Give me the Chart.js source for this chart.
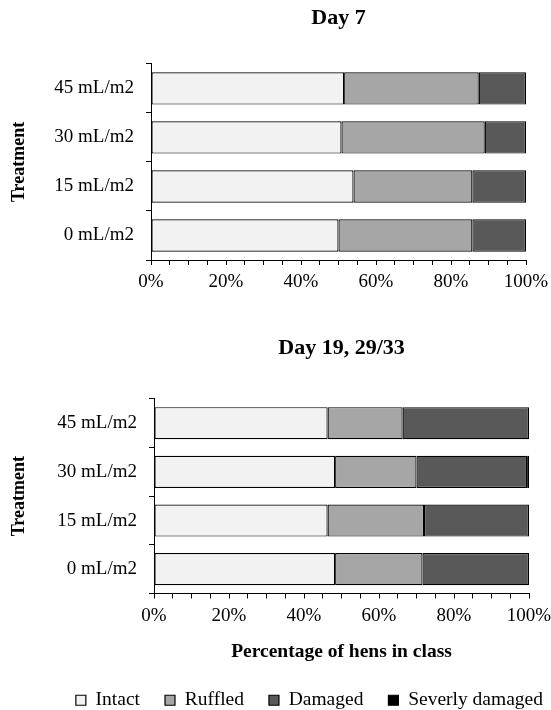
<!DOCTYPE html>
<html>
<head>
<meta charset="utf-8">
<script src="https://cdn.jsdelivr.net/npm/chart.js@4"></script>
<style>
  html, body { margin: 0; background: #fff; overflow: hidden; }
  #wrap { position: relative; width: 551px; height: 710px; overflow: hidden; }
  .box { position: absolute; left: 0; }
</style>
</head>
<body>
<div id="wrap">
  <div class="box" style="top:0;width:551px;height:300px;"><canvas id="day7"></canvas></div>
  <div class="box" style="top:300px;width:568px;height:420px;"><canvas id="day19"></canvas></div>
</div>
<script>
// Treatments, bottom to top
var treatments = ['0 mL/m2', '15 mL/m2', '30 mL/m2', '45 mL/m2'];
var classNames = ['Intact', 'Ruffled', 'Damaged', 'Severly damaged'];
var classColors = ['#f2f2f2', '#a6a6a6', '#595959', '#000000'];

// Day 7 (% of hens per class)
var day7Intact = [50.0, 54.0, 50.8, 51.5];
var day7Ruffled = [35.7, 31.7, 38.2, 35.9];
var day7Damaged = [14.3, 14.3, 11.0, 12.6];
var day7Severe = [0, 0, 0, 0];

// Day 19, 29/33
var day19Intact = [48.3, 46.3, 48.3, 46.3];
var day19Ruffled = [23.3, 25.7, 21.7, 20.0];
var day19Damaged = [28.4, 28.0, 29.5, 33.7];
var day19Severe = [0, 0, 0.5, 0];

var xTicks = [0, 20, 40, 60, 80, 100];

var FONT = 'Liberation Serif, Times New Roman, serif';
Chart.defaults.font.family = FONT;
Chart.defaults.color = '#000';

function makeDatasets(series) {
    return series.map(function(vals, i) {
        return {
            label: classNames[i],
            data: vals,
            backgroundColor: classColors[i],
            borderColor: '#000',
            borderWidth: 1.2,
            borderSkipped: false,
            barPercentage: 0.66,
            categoryPercentage: 1
        };
    });
}

function makeChart(id, title, series, opt) {
    var ctx = document.getElementById(id).getContext('2d');
    return new Chart(ctx, {
        type: 'bar',
        data: { labels: treatments, datasets: makeDatasets(series) },
        options: {
            indexAxis: 'y',
            responsive: true,
            maintainAspectRatio: false,
            animation: false,
            layout: { padding: 0 },
            plugins: {
                tooltip: { enabled: false },
                title: {
                    display: true,
                    fullSize: false,
                    text: title,
                    color: '#000',
                    font: { size: 22, weight: 'bold', family: FONT },
                    padding: { top: opt.titleTop, bottom: opt.titleBottom }
                },
                legend: {
                    display: opt.legend,
                    position: 'bottom',
                    align: 'end',
                    labels: {
                        boxWidth: 10,
                        boxHeight: 10,
                        padding: 25,
                        color: '#000',
                        font: { size: 19.5, family: FONT }
                    }
                }
            },
            scales: {
                x: {
                    stacked: true,
                    min: 0,
                    max: 100,
                    afterFit: function(s) {
                        s.height = opt.xHeight;
                        s.paddingLeft = 0;
                        s.paddingRight = opt.right;
                    },
                    afterBuildTicks: function(s) {
                        var t = [];
                        for (var v = 0; v <= 100; v += 5) t.push({ value: v });
                        s.ticks = t;
                    },
                    ticks: {
                        autoSkip: false,
                        maxRotation: 0,
                        padding: 6,
                        font: { size: 19, family: FONT },
                        callback: function(v) { return xTicks.indexOf(v) >= 0 ? v + '%' : ''; }
                    },
                    grid: { drawOnChartArea: false, tickLength: 5, color: '#000' },
                    border: { display: true, color: '#000', width: 1 },
                    title: {
                        display: opt.xTitle,
                        text: 'Percentage of hens in class',
                        color: '#000',
                        font: { size: 19.5, weight: 'bold', family: FONT },
                        padding: { top: 0, bottom: 2 }
                    }
                },
                y: {
                    stacked: true,
                    reverse: true,
                    afterFit: function(s) { s.width = opt.left; },
                    ticks: { padding: 12, font: { size: 19, family: FONT } },
                    grid: { drawOnChartArea: false, offset: true, tickLength: 5, color: '#000' },
                    border: { display: true, color: '#000', width: 1 },
                    title: {
                        display: true,
                        text: 'Treatment',
                        color: '#000',
                        font: { size: 18, weight: 'bold', family: FONT },
                        padding: { top: 9, bottom: 0 }
                    }
                }
            }
        }
    });
}

makeChart('day7', 'Day 7', [day7Intact, day7Ruffled, day7Damaged, day7Severe], {
    left: 151, right: 25, titleTop: 5, titleBottom: 32.5,
    xHeight: 40, xTitle: false, legend: false
});

// canvas is 568 wide (clipped at 551) so the legend sits right like the original
makeChart('day19', 'Day 19, 29/33', [day19Intact, day19Ruffled, day19Damaged, day19Severe], {
    left: 154, right: 39, titleTop: 35, titleBottom: 37.5,
    xHeight: 72, xTitle: true, legend: true
});
</script>
</body>
</html>
